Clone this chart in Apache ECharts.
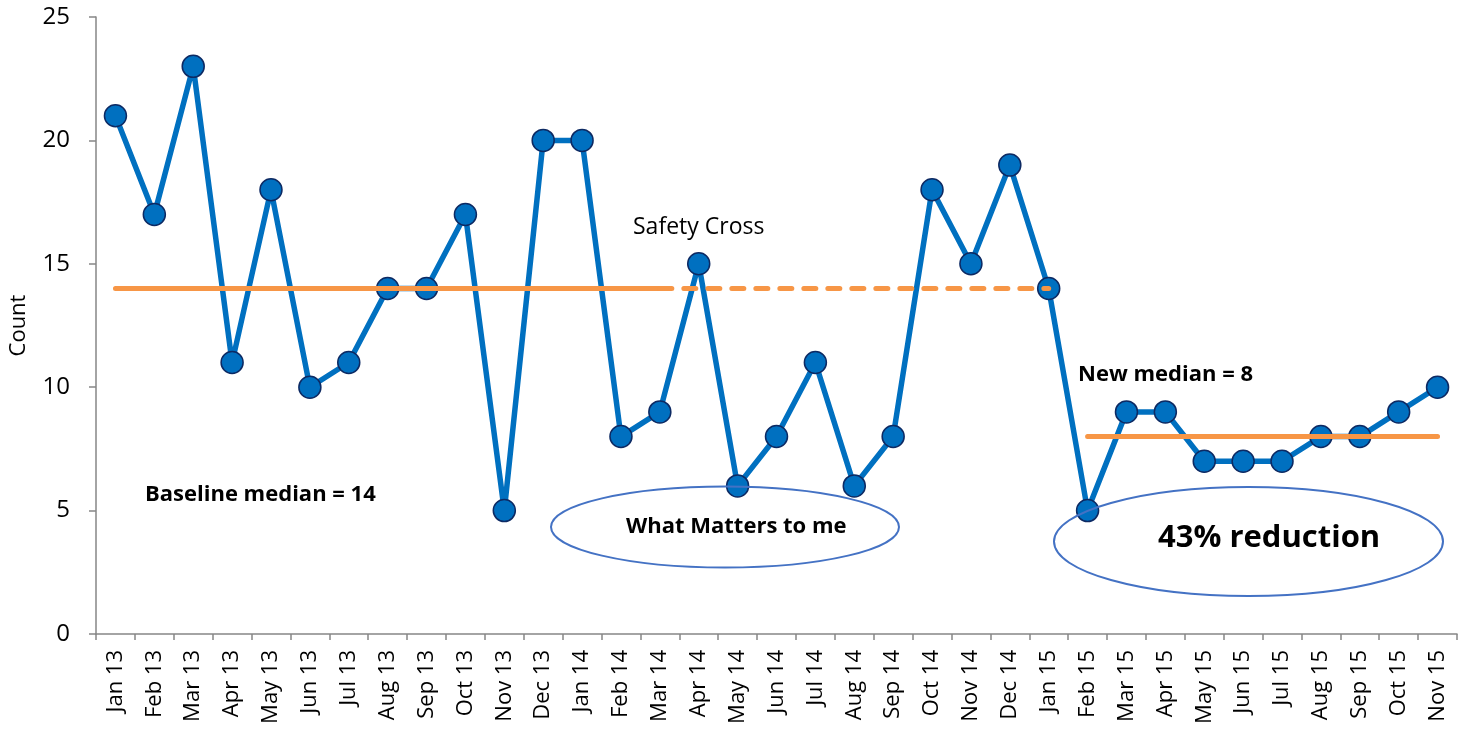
<!DOCTYPE html>
<html><head><meta charset="utf-8">
<script src="https://cdn.jsdelivr.net/npm/echarts@6/dist/echarts.min.js"></script>
<style>html,body{margin:0;padding:0;background:#fff}#c{width:1458px;height:729px}</style>
</head><body><div id="c"></div>
<script>
const categories = ['Jan 13','Feb 13','Mar 13','Apr 13','May 13','Jun 13','Jul 13','Aug 13','Sep 13','Oct 13','Nov 13','Dec 13',
  'Jan 14','Feb 14','Mar 14','Apr 14','May 14','Jun 14','Jul 14','Aug 14','Sep 14','Oct 14','Nov 14','Dec 14',
  'Jan 15','Feb 15','Mar 15','Apr 15','May 15','Jun 15','Jul 15','Aug 15','Sep 15','Oct 15','Nov 15'];
const counts = [21,17,23,11,18,10,11,14,14,17,5,20,20,8,9,15,6,8,11,6,8,18,15,19,14,5,9,9,7,7,7,8,8,9,10];
const baselineMedian = 14;
const newMedian = 8;
const baselineSolidRange = [0, 14];   // Jan 13 .. Mar 14
const baselineDashRange = [14, 24];   // Mar 14 .. Jan 15
const newMedianRange = [25, 34];      // Feb 15 .. Nov 15
const yTicks = {min: 0, max: 25, interval: 5};

function seg(range, v) {
  return categories.map((_, i) => (i >= range[0] && i <= range[1]) ? v : null);
}

const chart = echarts.init(document.getElementById('c'));
const font = 'Open Sans, Lato, sans-serif';
function label(text, x, y, size, bold) {
  return {type: 'text', x: x, y: y, z: 100,
    style: {text: text, fontSize: size, fontWeight: bold ? 'bold' : 'normal', fill: '#000',
            fontFamily: font, align: 'left', verticalAlign: 'middle'}};
}
chart.setOption({
  animation: false,
  grid: {left: 96, right: 1, top: 17, bottom: 95, containLabel: false},
  xAxis: {
    type: 'category', data: categories, boundaryGap: true,
    axisLine: {lineStyle: {color: '#868686', width: 1.5}},
    axisTick: {show: true, length: 6, interval: 0, lineStyle: {color: '#868686', width: 1.5}},
    axisLabel: {rotate: 90, interval: 0, fontSize: 22, color: '#000', fontFamily: font, margin: 16}
  },
  yAxis: {
    type: 'value', min: yTicks.min, max: yTicks.max, interval: yTicks.interval,
    name: 'Count', nameLocation: 'middle', nameGap: 66, nameRotate: 90,
    nameTextStyle: {fontSize: 22, color: '#000', fontFamily: font},
    axisLine: {show: true, lineStyle: {color: '#868686', width: 1.5}},
    axisTick: {show: true, length: 7, lineStyle: {color: '#868686', width: 1.5}},
    splitLine: {show: false},
    axisLabel: {fontSize: 24, color: '#000', fontFamily: font, margin: 26}
  },
  series: [
    {type: 'line', data: seg(baselineSolidRange, baselineMedian), symbol: 'none', z: 3,
     lineStyle: {color: '#F79646', width: 5, cap: 'round'}},
    {type: 'line', data: seg(baselineDashRange, baselineMedian), symbol: 'none', z: 3,
     lineStyle: {color: '#F79646', width: 5, type: [12, 12], cap: 'round'}},
    {type: 'line', data: seg(newMedianRange, newMedian), symbol: 'none', z: 3,
     lineStyle: {color: '#F79646', width: 5, cap: 'round'}},
    {type: 'line', data: counts, symbol: 'circle', symbolSize: 22, z: 2,
     lineStyle: {color: '#0070C0', width: 5.5},
     itemStyle: {color: '#0070C0', borderColor: '#0D2A63', borderWidth: 1.5}}
  ],
  graphic: [
    {type: 'ellipse', shape: {cx: 725, cy: 527, rx: 174, ry: 40.5}, z: 100,
     style: {fill: 'none', stroke: '#4472C4', lineWidth: 2}},
    {type: 'ellipse', shape: {cx: 1248.5, cy: 541.5, rx: 194.5, ry: 54.5}, z: 100,
     style: {fill: 'none', stroke: '#4472C4', lineWidth: 2}},
    label('Safety Cross', 633, 227, 23, false),
    label('Baseline median = 14', 145, 495, 22, true),
    label('New median = 8', 1078, 375, 22, true),
    label('What Matters to me', 626, 527, 22, true),
    label('43% reduction', 1158, 538, 31, true)
  ]
});
</script></body></html>
